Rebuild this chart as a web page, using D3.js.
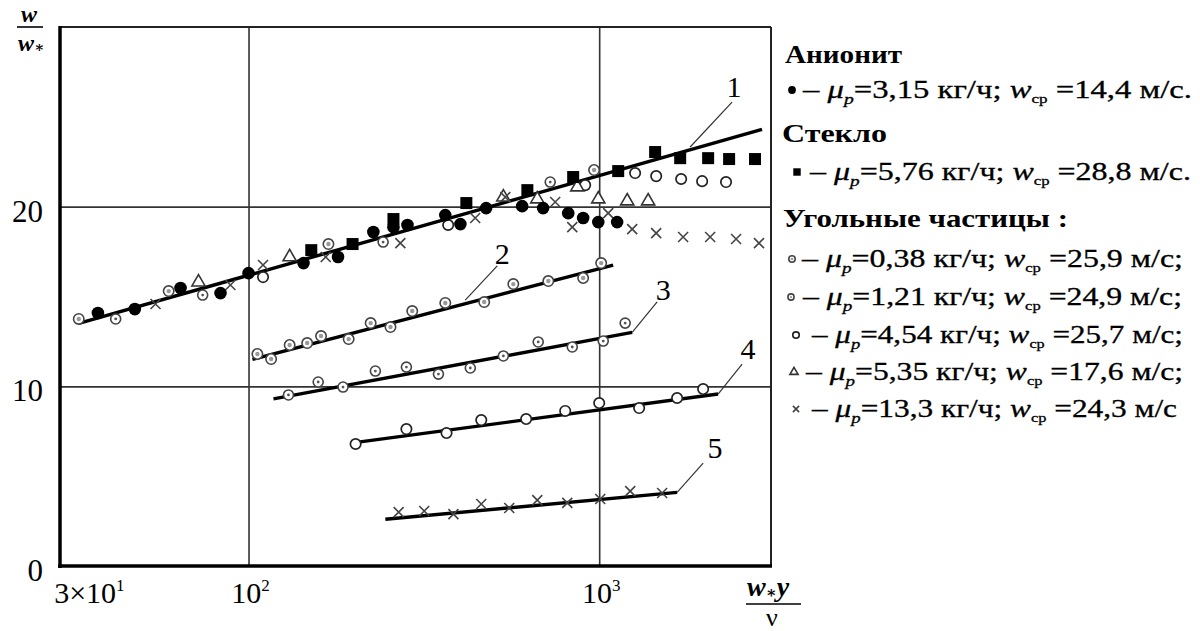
<!DOCTYPE html>
<html>
<head>
<meta charset="utf-8">
<script src="https://cdn.jsdelivr.net/npm/d3@7"></script>
<style>
  body { margin: 0; background: #fff; }
  svg { font-family: "Liberation Serif", "DejaVu Serif", serif; }
</style>
</head>
<body>
<svg id="chart" width="1200" height="631"></svg>
<script>
// ---- data ----
const xDomain = [29, 3090];
const yDomain = [0, 30];
const xGrid = [100, 1000];
const yGrid = [10, 20];
const yTicks = [0, 10, 20];
const xTickValues = [30, 100, 1000];
const xTickBase = ['3\u00d710', '10', '10'];
const xTickExp = ['1', '2', '3'];

// Анионит, μp = 3,15 кг/ч
const anionit = [[37.2,14.08],[47.4,14.30],[64.0,15.47],[83.2,15.19],[100,16.30],[143.5,16.86],[180,17.20],
  [227,18.59],[259,18.86],[284,18.98],[364,19.53],[402,19.03],[476,19.92],[603,20.03],[692,19.92],
  [816,19.64],[900,19.37],[994,19.14],[1125,19.14]];
// Стекло, μp = 5,76 кг/ч
const steklo = [[151,17.58],[198,17.92],[259,19.31],[418,20.20],[624,20.92],[843,21.65],[1133,21.98],
  [1444,23.04],[1702,22.70],[2045,22.70],[2347,22.65],[2782,22.65]];
// Угольные частицы
const coal038 = [[32.8,13.75],[59.2,15.30],[169,17.92],[967,22.04],
  [106,11.80],[116,11.52],[131,12.30],[147,12.41],[161,12.80],[193,12.63],[223,13.52],[254,13.30],
  [293,14.19],[364,14.64],[470,14.69],[569,15.69],[716,15.86],[900,16.03],[1013,16.86]];
const coal121 = [[41.8,13.75],[74.0,15.08],[242,18.03],[725,21.37],
  [130,9.52],[158,10.24],[186,9.96],[230,10.85],[282,11.07],[348,10.68],[429,11.02],[533,11.69],
  [670,12.47],[838,12.19],[1027,12.52],[1186,13.52]];
const coal454 = [[110,16.08],[371,18.98],[912,21.20],[1266,21.87],[1454,21.70],[1713,21.54],[1966,21.42],[2300,21.37],
  [202,6.79],[282,7.62],[367,7.40],[461,8.12],[619,8.18],[800,8.63],[1000,9.07],[1300,8.79],[1668,9.35],[1979,9.85]];
const coal535 = [[72.0,15.80],[131,17.20],[533,20.53],[666,20.42],[866,21.09],[994,20.42],[1202,20.31],[1379,20.31]];
const coal133 = [[54.3,14.58],[88.8,15.64],[110,16.75],[166,17.20],[271,17.97],[443,19.37],[540,20.53],[749,20.26],
  [838,18.86],[1061,19.64],[1242,18.75],[1454,18.53],[1735,18.31],[2072,18.31],[2457,18.20],[2856,17.97],
  [268,3.00],[317,3.06],[384,2.89],[461,3.45],[554,3.23],[666,3.67],[811,3.51],[1007,3.73],[1226,4.17],[1512,4.06]];

// fitted lines 1..5
const curveNames = ['1', '2', '3', '4', '5'];
const fitStart = [[32.8,13.5],[102.6,11.5],[117.8,9.3],[198,6.85],[245.6,2.6]];
const fitEnd = [[2913,24.3],[1096,16.75],[1242,13.0],[2183,9.57],[1668,4.1]];
const leaderFrom = [[1817,23.32],[415,14.8],[1242,13.0],[2183,9.57],[1668,4.1]];
const leaderTo = [[2393,25.82],[512,16.7],[1463,14.7],[2556,11.24],[1979,5.73]];
const labelAt = [[2425,26.7],[529,17.4],[1522,15.4],[2658,12.1],[2140,6.6]];

// legend
const legendMu = ['3,15', '5,76', '0,38', '1,21', '4,54', '5,35', '13,3'];
const legendW = ['14,4', '28,8', '25,9', '24,9', '25,7', '17,6', '24,3'];
const legendTail = ['.', '.', ';', ';', ';', ';', ''];
const legendHeads = ['Анионит', 'Стекло', 'Угольные частицы :'];

// ---- chart ----
const svg = d3.select('#chart');
const plotLeft = 60, plotRight = 771, plotTop = 27, plotBottom = 566;

const x = d3.scaleLog().domain(xDomain).range([plotLeft, plotRight]);
const y = d3.scaleLinear().domain(yDomain).range([plotBottom, plotTop]);

// grid
svg.append('g')
  .attr('transform', `translate(0,${plotBottom})`)
  .call(d3.axisBottom(x).tickValues(xGrid).tickSize(-(plotBottom - plotTop)).tickFormat(''))
  .call(g => g.select('.domain').remove())
  .selectAll('line').attr('stroke', '#333').attr('stroke-width', 1.6);
svg.append('g')
  .attr('transform', `translate(${plotLeft},0)`)
  .call(d3.axisLeft(y).tickValues(yGrid).tickSize(-(plotRight - plotLeft)).tickFormat(''))
  .call(g => g.select('.domain').remove())
  .selectAll('line').attr('stroke', '#333').attr('stroke-width', 1.6);

// frame
svg.append('line').attr('x1', plotLeft).attr('x2', plotRight).attr('y1', plotTop).attr('y2', plotTop)
  .attr('stroke', '#222').attr('stroke-width', 2);
svg.append('line').attr('x1', plotRight).attr('x2', plotRight).attr('y1', plotTop).attr('y2', plotBottom)
  .attr('stroke', '#222').attr('stroke-width', 2);
svg.append('line').attr('x1', plotLeft).attr('x2', plotLeft).attr('y1', plotTop - 1).attr('y2', plotBottom + 2)
  .attr('stroke', '#000').attr('stroke-width', 3.5);
svg.append('line').attr('x1', plotLeft - 2).attr('x2', plotRight + 1).attr('y1', plotBottom).attr('y2', plotBottom)
  .attr('stroke', '#000').attr('stroke-width', 3.5);

// marker painters
const markers = {
  disc: (g, s) => g.append('circle').attr('r', 6.3 * s).attr('fill', '#000'),
  square: (g, s) => g.append('rect').attr('x', -6 * s).attr('y', -6 * s)
    .attr('width', 12 * s).attr('height', 12 * s).attr('fill', '#000'),
  hatched: (g, s) => {
    g.append('circle').attr('r', 5.2 * s).attr('fill', '#fff').attr('stroke', '#444').attr('stroke-width', 1.6);
    g.append('circle').attr('r', 2.2 * s).attr('fill', '#999');
  },
  dotted: (g, s) => {
    g.append('circle').attr('r', 5 * s).attr('fill', '#fff').attr('stroke', '#444').attr('stroke-width', 1.6);
    g.append('circle').attr('r', 1.4 * s).attr('fill', '#555');
  },
  ring: (g, s) => g.append('circle').attr('r', 5.2 * s).attr('fill', '#fff')
    .attr('stroke', '#222').attr('stroke-width', 1.7),
  triangle: (g, s) => g.append('path')
    .attr('d', d3.symbol().type(d3.symbolTriangle).size(75 * s * s))
    .attr('fill', '#fff').attr('stroke', '#333').attr('stroke-width', 1.6),
  cross: (g, s) => g.append('path')
    .attr('d', `M${-5 * s},${-5 * s}L${5 * s},${5 * s}M${-5 * s},${5 * s}L${5 * s},${-5 * s}`)
    .attr('stroke', '#444').attr('stroke-width', 1.6).attr('fill', 'none')
};

const series = [
  { data: coal038, shape: 'hatched' },
  { data: coal121, shape: 'dotted' },
  { data: coal454, shape: 'ring' },
  { data: coal535, shape: 'triangle' },
  { data: coal133, shape: 'cross' },
  { data: steklo, shape: 'square' },
  { data: anionit, shape: 'disc' }
];

// fitted lines
svg.append('g').selectAll('line').data(curveNames)
  .enter().append('line')
    .attr('x1', (d, i) => x(fitStart[i][0]))
    .attr('y1', (d, i) => y(fitStart[i][1]))
    .attr('x2', (d, i) => x(fitEnd[i][0]))
    .attr('y2', (d, i) => y(fitEnd[i][1]))
    .attr('stroke', '#000')
    .attr('stroke-width', 3.4);

// points
series.forEach(s => {
  svg.append('g').selectAll('g').data(s.data)
    .enter().append('g')
      .attr('transform', d => `translate(${x(d[0])},${y(d[1])})`)
      .each(function () { markers[s.shape](d3.select(this), 1); });
});

// leaders and curve numbers
svg.append('g').selectAll('line').data(curveNames)
  .enter().append('line')
    .attr('x1', (d, i) => x(leaderFrom[i][0]))
    .attr('y1', (d, i) => y(leaderFrom[i][1]))
    .attr('x2', (d, i) => x(leaderTo[i][0]))
    .attr('y2', (d, i) => y(leaderTo[i][1]))
    .attr('stroke', '#333')
    .attr('stroke-width', 1.2);
svg.append('g').selectAll('text').data(curveNames)
  .enter().append('text')
    .attr('x', (d, i) => x(labelAt[i][0]))
    .attr('y', (d, i) => y(labelAt[i][1]))
    .attr('dy', '0.35em')
    .attr('text-anchor', 'middle')
    .attr('font-size', 30)
    .text(d => d);

// y tick labels
svg.append('g').selectAll('text').data(yTicks)
  .enter().append('text')
    .attr('x', 43)
    .attr('y', d => y(d) + 4)
    .attr('dy', '0.35em')
    .attr('text-anchor', 'end')
    .attr('font-size', 31)
    .text(d => d);

// x tick labels
const xt = svg.append('g').selectAll('text').data(xTickValues)
  .enter().append('text')
    .attr('x', (d, i) => i === 0 ? x(d) - 11 : x(d) + 2)
    .attr('y', 603)
    .attr('text-anchor', (d, i) => i === 0 ? 'start' : 'middle')
    .attr('font-size', 30);
xt.append('tspan').text((d, i) => xTickBase[i]);
xt.append('tspan').attr('font-size', 17).attr('dy', -12).text((d, i) => xTickExp[i]);

// axis titles
const yt = svg.append('g').attr('font-weight', 'bold').attr('font-style', 'italic').attr('font-size', 24);
yt.append('text').attr('x', 29).attr('y', 22).attr('text-anchor', 'middle').text('w');
yt.append('line').attr('x1', 17).attr('x2', 43).attr('y1', 27).attr('y2', 27)
  .attr('stroke', '#000').attr('stroke-width', 1.6);
const ytb = yt.append('text').attr('x', 18).attr('y', 51);
ytb.append('tspan').text('w');
ytb.append('tspan').attr('font-size', 15).attr('dy', 1).text('\u2217');

const xtt = svg.append('g').attr('font-weight', 'bold').attr('font-style', 'italic').attr('font-size', 28);
const xtop = xtt.append('text').attr('x', 747).attr('y', 596);
xtop.append('tspan').text('w');
xtop.append('tspan').attr('font-size', 16).attr('dy', 2).text('\u2217');
xtop.append('tspan').attr('dy', -2).text('y');
xtt.append('line').attr('x1', 746).attr('x2', 801).attr('y1', 604).attr('y2', 604)
  .attr('stroke', '#000').attr('stroke-width', 1.6);
xtt.append('text').attr('x', 772).attr('y', 626).attr('text-anchor', 'middle')
  .attr('font-style', 'normal').attr('font-weight', 'normal').attr('font-size', 26).text('\u03bd');

// legend
const legend = svg.append('g').attr('font-size', 25);
const headBase = [63, 142, 227];
const headX = [785, 782, 783];
const headLen = [117, 105, 285];
legendHeads.forEach((h, i) => {
  legend.append('text').attr('x', headX[i]).attr('y', headBase[i])
    .attr('font-weight', 'bold')
    .attr('textLength', headLen[i]).attr('lengthAdjust', 'spacingAndGlyphs')
    .text(h);
});

const rowShape = ['disc', 'square', 'hatched', 'dotted', 'ring', 'triangle', 'cross'];
const rowBase = [98, 180, 267, 305, 343, 380, 417];
const rowMarkX = [792, 797, 792, 791, 796, 794, 796];
const rowTextX = [803, 810, 802, 803, 812, 806, 812];
const rowLen = [389, 381, 381, 379, 371, 377, 365];
legendMu.forEach((mu, i) => {
  const m = legend.append('g').attr('transform', `translate(${rowMarkX[i]},${rowBase[i] - 8})`);
  markers[rowShape[i]](m, 0.62);
  const t = legend.append('text').attr('x', rowTextX[i]).attr('y', rowBase[i])
    .attr('stroke', '#000').attr('stroke-width', 0.3)
    .attr('textLength', rowLen[i]).attr('lengthAdjust', 'spacingAndGlyphs');
  t.append('tspan').text('\u2013 ');
  t.append('tspan').attr('font-style', 'italic').text('\u03bc');
  t.append('tspan').attr('font-style', 'italic').attr('font-size', 15).attr('dy', 6).text('p');
  t.append('tspan').attr('dy', -6).text(`=${mu} кг/ч; `);
  t.append('tspan').attr('font-style', 'italic').text('w');
  t.append('tspan').attr('font-size', 13).attr('dy', 5).text('ср');
  t.append('tspan').attr('dy', -5).text(` =${legendW[i]} м/с${legendTail[i]}`);
});
</script>
</body>
</html>
